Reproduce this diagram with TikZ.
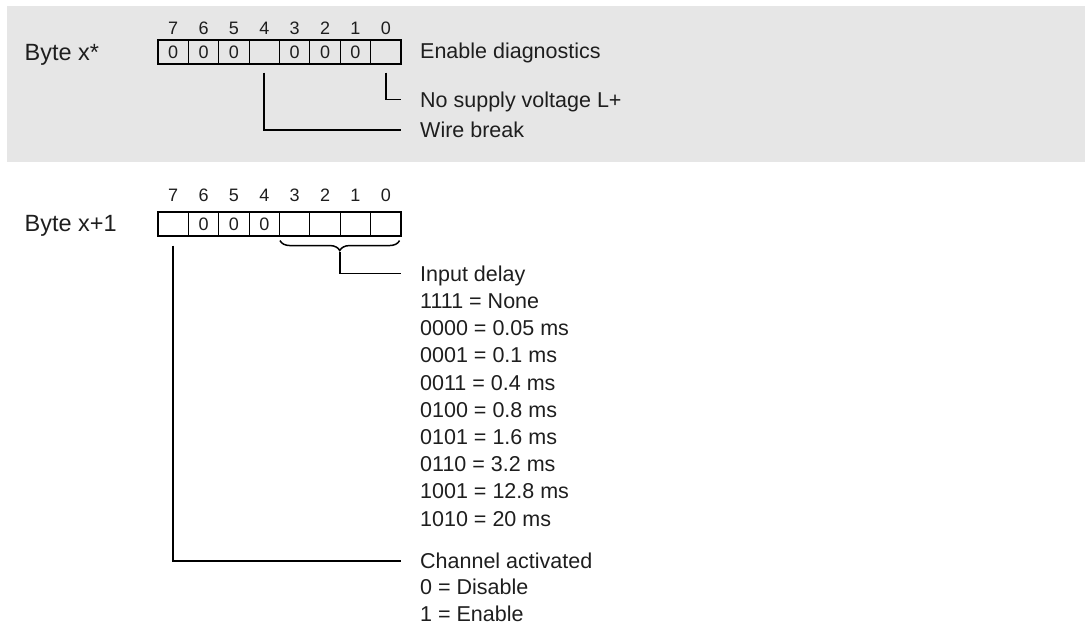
\documentclass[tikz,border=0pt]{standalone}
\usepackage{fontspec}
\setmainfont{Liberation Sans}
\usetikzlibrary{decorations.pathreplacing,calc}
\definecolor{bggray}{HTML}{E6E6E6}
\definecolor{ink}{HTML}{1E1E1E}
\begin{document}
\begin{tikzpicture}[x=1pt,y=-1pt,
  cell/.style={draw=black, line width=1.1pt, minimum width=30.375pt, minimum height=24pt, inner sep=0pt, text height=12.9pt, text depth=0pt, font=\fontsize{18}{18}\selectfont, text=ink},
  bitnum/.style={inner sep=0pt, text height=12.9pt, text depth=0pt, font=\fontsize{18}{18}\selectfont, text=ink},
  bytelbl/.style={anchor=west, inner sep=0pt, text height=16.8pt, text depth=0pt, font=\fontsize{23.5}{24}\selectfont, text=ink},
  lbl/.style={anchor=west, inner xsep=19pt, inner ysep=0pt, text height=15.4pt, text depth=0pt, font=\fontsize{21.5}{22}\selectfont, text=ink},
  conn/.style={draw=black, line width=1.8pt},
  bracestyle/.style={draw=black, line width=1.5pt, decorate, decoration={brace, mirror, amplitude=10pt}},
]
\useasboundingbox (0,0) rectangle (1085,625);
\fill[bggray] (7,6) rectangle (1085,162);

% ---- Byte x* ----
\node[bytelbl] (bx) at (24.5,51.7) {Byte x*};
\foreach \n/\v [count=\i from 0] in {7/0,6/0,5/0,4/{},3/0,2/0,1/0,0/{}} {
  \node[cell] (a\n) at ({158+(\i+0.5)*30.375},52) {\v};
  \node[bitnum] (na\n) at ({158+(\i+0.5)*30.375},28.5) {\n};
}
\node[lbl] (endiag) at (401,51) {Enable diagnostics};
\node[lbl] (nosup) at (401,99.5) {No supply voltage L+};
\node[lbl] (wire) at (401,130) {Wire break};
\draw[conn] ([yshift=-8pt]a0.south) |- (nosup.west);
\draw[conn] ([yshift=-8pt]a4.south) |- (wire.west);

% ---- Byte x+1 ----
\node[bytelbl] (bx1) at (24.5,223.3) {Byte x+1};
\foreach \n/\v [count=\i from 0] in {7/{},6/0,5/0,4/0,3/{},2/{},1/{},0/{}} {
  \node[cell] (b\n) at ({158+(\i+0.5)*30.375},224) {\v};
  \node[bitnum] (nb\n) at ({158+(\i+0.5)*30.375},195) {\n};
}
\draw[bracestyle] ([xshift=1pt,yshift=-4pt]b3.south west) -- ([xshift=-2pt,yshift=-4pt]b0.south east);
\coordinate (tip) at ($(b3.south west)!0.5!(b0.south east)+(0,15)$);
\node[lbl] (delay) at (401,273.5) {Input delay};
\draw[conn] (tip) |- (delay.west);
\foreach \t [count=\k] in {1111 = None, 0000 = 0.05 ms, 0001 = 0.1 ms, 0011 = 0.4 ms, 0100 = 0.8 ms, 0101 = 1.6 ms, 0110 = 3.2 ms, 1001 = 12.8 ms, 1010 = 20 ms} {
  \node[lbl] (d\k) at (401,{273.5+\k*27.2}) {\t};
}
\node[lbl] (chan) at (401,561) {Channel activated};
\node[lbl] (dis) at (401,587.2) {0 = Disable};
\node[lbl] (ena) at (401,613.4) {1 = Enable};
\draw[conn] ([yshift=-9pt]b7.south) |- (chan.west);
\end{tikzpicture}
\end{document}
